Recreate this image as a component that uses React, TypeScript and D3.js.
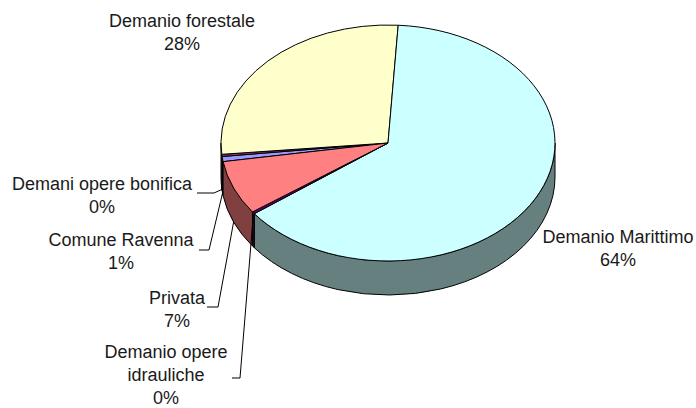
import React, { useEffect, useRef } from 'react';
import * as d3 from 'd3';

// data (alphabetical, as Excel draws it clockwise)
const categories = [
  'Comune Ravenna',
  'Demani opere bonifica',
  'Demanio forestale',
  'Demanio Marittimo',
  'Demanio opere idrauliche',
  'Privata',
];
const shares = [0.7, 0.3, 27.5, 63.8, 0.3, 7.4];
const labelLines = [
  ['Comune Ravenna'],
  ['Demani opere bonifica'],
  ['Demanio forestale'],
  ['Demanio Marittimo'],
  ['Demanio opere', 'idrauliche'],
  ['Privata'],
];
const colors = ['#9999FF', '#993366', '#FFFFCC', '#CCFFFF', '#660066', '#FF8080'];

// label placement (text centre, first baseline, leader start / elbow, tip drop on side)
const labelLayout = [
  { x: 121, y: 246, leader: [199, 250, 209], drop: 1 },
  { x: 102, y: 190, leader: [197, 193, 214], drop: 1 },
  { x: 182, y: 27, leader: null, drop: 0 },
  { x: 618, y: 243, leader: null, drop: 0 },
  { x: 166, y: 358, leader: [232, 378, 240], drop: 0.05 },
  { x: 177, y: 304, leader: [207, 307, 218], drop: 1 },
];

const W = 696;
const H = 408;

function App() {
  const svgRef = useRef<SVGSVGElement>(null);

  useEffect(() => {
    const svg = d3.select(svgRef.current);
    svg.selectAll('*').remove();

    const cx = 388, cy = 143, rx = 167, ry = 118, depth = 34;
    const lineH = 23;

    // the first slice starts so that Demanio Marittimo begins just right of 12 o'clock
    const before = d3.sum(shares.slice(0, 3)) / d3.sum(shares);
    const start = (3.5 * Math.PI) / 180 - before * 2 * Math.PI;
    const arcs = d3.pie<number>().sort(null).startAngle(start).endAngle(start + 2 * Math.PI)(shares);

    const pt = (a: number, drop = 0) => [cx + rx * Math.sin(a), cy - ry * Math.cos(a) + drop];
    const shade = (c: string) => {
      const k = d3.rgb(c);
      return d3.rgb(k.r * 0.5, k.g * 0.5, k.b * 0.5).formatHex();
    };

    const g = svg.append('g');

    // side walls (front half only)
    arcs.forEach((d, i) => {
      [-1, 0, 1].forEach(k => {
        const s = Math.max(d.startAngle + k * 2 * Math.PI, Math.PI / 2);
        const e = Math.min(d.endAngle + k * 2 * Math.PI, (3 * Math.PI) / 2);
        if (s >= e) return;
        const [x0, y0] = pt(s);
        const [x1, y1] = pt(e);
        const path = `M${x0},${y0}A${rx},${ry} 0 0 1 ${x1},${y1}L${x1},${y1 + depth}A${rx},${ry} 0 0 0 ${x0},${y0 + depth}Z`;
        g.append('path')
          .attr('d', path)
          .attr('fill', shade(colors[i]))
          .attr('stroke', '#000')
          .attr('stroke-width', 1)
          .attr('stroke-linejoin', 'round');
      });
    });

    // top faces
    arcs.forEach((d, i) => {
      const [x0, y0] = pt(d.startAngle);
      const [x1, y1] = pt(d.endAngle);
      const large = d.endAngle - d.startAngle > Math.PI ? 1 : 0;
      g.append('path')
        .attr('d', `M${cx},${cy}L${x0},${y0}A${rx},${ry} 0 ${large} 1 ${x1},${y1}Z`)
        .attr('fill', colors[i])
        .attr('stroke', '#000')
        .attr('stroke-width', 1)
        .attr('stroke-linejoin', 'round');
    });

    // leader lines
    arcs.forEach((d, i) => {
      const lay = labelLayout[i];
      if (!lay.leader) return;
      const mid = (d.startAngle + d.endAngle) / 2;
      const tip = pt(mid, depth * lay.drop);
      const [sx, sy, ex] = lay.leader;
      svg.append('polyline')
        .attr('points', `${sx},${sy} ${ex},${sy} ${tip[0]},${tip[1]}`)
        .attr('fill', 'none')
        .attr('stroke', '#000')
        .attr('stroke-width', 1);
    });

    // labels
    const total = d3.sum(shares);
    arcs.forEach((d, i) => {
      const lay = labelLayout[i];
      const lines = [...labelLines[i], `${Math.round((d.data / total) * 100)}%`];
      const t = svg.append('text')
        .attr('text-anchor', 'middle')
        .attr('font-family', '"Liberation Sans", Arial, sans-serif')
        .attr('font-size', 18)
        .attr('fill', '#1a1a1a');
      lines.forEach((l, j) => {
        t.append('tspan').attr('x', lay.x).attr('y', lay.y + j * lineH).text(l);
      });
    });
  }, []);

  return (
    <svg
      ref={svgRef}
      width={W}
      height={H}
      style={{ position: 'absolute', left: 0, top: 0, background: '#fff' }}
    />
  );
}

export default App;
